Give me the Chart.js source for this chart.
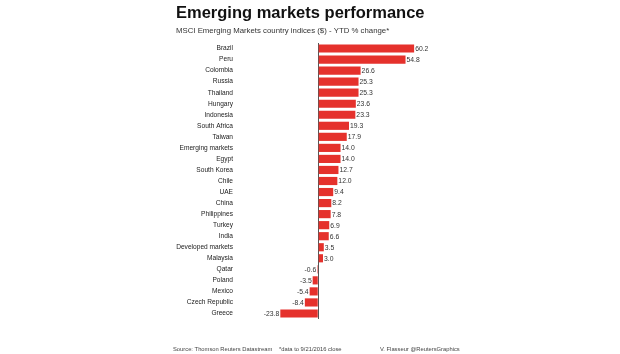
<!DOCTYPE html>
<html lang="en">
<head>
    <meta charset="UTF-8">
    <title>Emerging markets performance</title>
    <script src="https://cdn.jsdelivr.net/npm/chart.js"></script>
    <style>
        html, body { margin: 0; padding: 0; background: #fff; }
        #wrap { position: relative; width: 620px; height: 354px; }
    </style>
</head>
<body>
<div id="wrap"><canvas id="grafico" width="620" height="354"></canvas></div>
<script>
    // dados
    const paises = ['Brazil', 'Peru', 'Colombia', 'Russia', 'Thailand', 'Hungary', 'Indonesia',
        'South Africa', 'Taiwan', 'Emerging markets', 'Egypt', 'South Korea', 'Chile', 'UAE',
        'China', 'Philippines', 'Turkey', 'India', 'Developed markets', 'Malaysia', 'Qatar',
        'Poland', 'Mexico', 'Czech Republic', 'Greece'];
    const variacao = [60.2, 54.8, 26.6, 25.3, 25.3, 23.6, 23.3, 19.3, 17.9, 14.0, 14.0, 12.7,
        12.0, 9.4, 8.2, 7.8, 6.9, 6.6, 3.5, 3.0, -0.6, -3.5, -5.4, -8.4, -23.8];
    const eixoX = [-24, 62];

    const vermelho = '#e5312c';
    const fonte = '"Liberation Sans", Arial, sans-serif';

    // textos fixos: titulo, subtitulo e rodapé
    const textos = {
        id: 'textos',
        afterDraw(chart) {
            const c = chart.ctx;
            c.save();
            c.fillStyle = '#111';
            c.textBaseline = 'alphabetic';
            c.textAlign = 'left';
            c.font = 'bold 16.5px ' + fonte;
            c.fillText('Emerging markets performance', 176, 18);
            c.fillStyle = '#333';
            c.font = '7.8px ' + fonte;
            c.fillText('MSCI Emerging Markets country indices ($) - YTD % change*', 176, 33);
            c.font = '5.8px ' + fonte;
            c.fillStyle = '#444';
            c.fillText('Source: Thomson Reuters Datastream', 173, 351);
            c.fillText('*data to 9/21/2016 close', 279, 351);
            c.fillText('V. Flasseur @ReutersGraphics', 380, 351);
            c.restore();
        }
    };

    // valores ao lado das barras
    const rotulos = {
        id: 'rotulos',
        afterDatasetsDraw(chart) {
            const c = chart.ctx;
            const meta = chart.getDatasetMeta(0);
            c.save();
            c.font = '6.8px ' + fonte;
            c.fillStyle = '#333';
            c.textBaseline = 'middle';
            meta.data.forEach((barra, i) => {
                const v = variacao[i];
                const txt = v.toFixed(1);
                if (v >= 0) {
                    c.textAlign = 'left';
                    c.fillText(txt, barra.x + 1, barra.y + 0.5);
                } else {
                    c.textAlign = 'right';
                    c.fillText(txt, barra.x - 1, barra.y + 0.5);
                }
            });
            c.restore();
        }
    };

    new Chart(document.getElementById('grafico'), {
        type: 'bar',
        data: {
            labels: paises,
            datasets: [{
                data: variacao,
                backgroundColor: vermelho,
                borderWidth: 0,
                categoryPercentage: 0.74,
                barPercentage: 1
            }]
        },
        options: {
            indexAxis: 'y',
            responsive: false,
            animation: false,
            layout: { padding: { left: 0, right: 203, top: 43, bottom: 35 } },
            plugins: {
                legend: { display: false },
                tooltip: { enabled: false }
            },
            scales: {
                x: {
                    min: eixoX[0],
                    max: eixoX[1],
                    ticks: { display: false },
                    border: { display: false },
                    grid: {
                        drawTicks: false,
                        color: ctx => ctx.tick && ctx.tick.value === 0 ? '#555' : 'transparent',
                        lineWidth: 1
                    },
                    afterBuildTicks: s => { s.ticks = [{ value: 0 }]; },
                    afterFit: s => { s.height = 0; }
                },
                y: {
                    // largura fixa para o zero cair em x=318
                    afterFit: s => { s.width = 280; s.paddingTop = 0; s.paddingBottom = 0; },
                    border: { display: false },
                    grid: { display: false, drawTicks: false },
                    ticks: {
                        padding: 47,
                        color: '#222',
                        font: { size: 6.6, family: fonte },
                        autoSkip: false
                    }
                }
            }
        },
        plugins: [textos, rotulos]
    });
</script>
</body>
</html>
